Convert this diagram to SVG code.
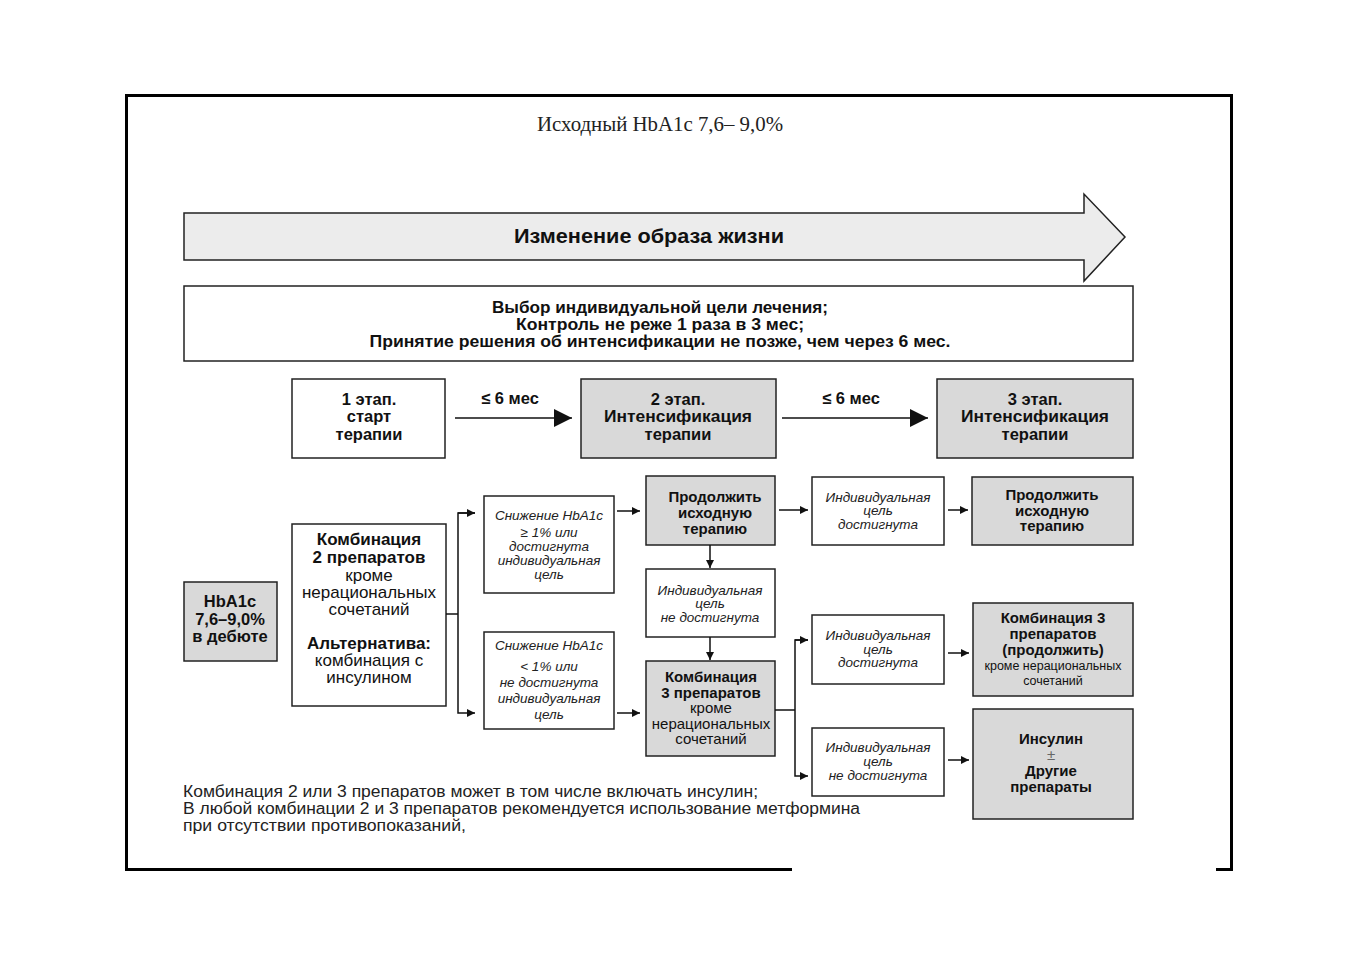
<svg xmlns="http://www.w3.org/2000/svg" width="1357" height="960" viewBox="0 0 1357 960">
<defs>
<marker id="ah" viewBox="0 0 10 10" refX="10" refY="5" markerWidth="8" markerHeight="8" markerUnits="userSpaceOnUse" orient="auto"><path d="M0,0 L10,5 L0,10 Z" fill="#111"/></marker>
<marker id="ahb" viewBox="0 0 10 10" refX="10" refY="5" markerWidth="18" markerHeight="18" markerUnits="userSpaceOnUse" orient="auto"><path d="M0,0 L10,5 L0,10 Z" fill="#111"/></marker>
<style>
.b{fill:#fff;stroke:#222;stroke-width:1.5}
.g{fill:#d9d9d9;stroke:#222;stroke-width:1.5}
.t{font-family:"Liberation Sans",Arial,sans-serif;fill:#111;text-anchor:middle}
.bd{font-weight:bold}
.it{font-style:italic;font-size:13.5px;fill:#222}
.c{fill:none;stroke:#111;stroke-width:1.5}
.fn{font-family:"Liberation Sans",Arial,sans-serif;font-size:16px;fill:#222}
.st{font-size:16.5px}
</style>
</defs>
<rect width="1357" height="960" fill="#fff"/>
<g id="frame" fill="none" stroke="#000" stroke-width="3">
<polyline points="792,869.5 126.5,869.5 126.5,95.5 1231.5,95.5 1231.5,869.5 1216,869.5"/>
</g>
<g id="title"><text x="660" y="131" textLength="246" lengthAdjust="spacingAndGlyphs" style="font-family:'Liberation Serif','Times New Roman',serif;font-size:20px;text-anchor:middle;fill:#222">Исходный HbA1c 7,6– 9,0%</text></g>
<g id="lifestyle">
<path d="M184,213 L1084,213 L1084,194 L1125,237 L1084,281 L1084,260 L184,260 Z" fill="#ececec" stroke="#222" stroke-width="1.5"/>
<text class="t bd" x="649" y="243" font-size="20.5" textLength="270" lengthAdjust="spacingAndGlyphs">Изменение образа жизни</text>
</g>
<g id="goals">
<rect class="b" x="184" y="286" width="949" height="75"/>
<text class="t bd" font-size="16" x="660" y="313" textLength="336" lengthAdjust="spacingAndGlyphs">Выбор индивидуальной цели лечения;</text>
<text class="t bd" font-size="16" x="660" y="330" textLength="288" lengthAdjust="spacingAndGlyphs">Контроль не реже 1 раза в 3 мес;</text>
<text class="t bd" font-size="16" x="660" y="347" textLength="581" lengthAdjust="spacingAndGlyphs">Принятие решения об интенсификации не позже, чем через 6 мес.</text>
</g>
<g id="stage1"><rect class="b" x="292" y="379" width="153" height="79"/>
<text class="t bd st"><tspan x="369" y="405">1 этап.</tspan><tspan x="369" y="422">старт</tspan><tspan x="369" y="440">терапии</tspan></text></g>
<g id="stage2"><rect class="g" x="581" y="379" width="195" height="79"/>
<text class="t bd st" x="678" y="405">2 этап.</text>
<text class="t bd st" x="678" y="422" textLength="148" lengthAdjust="spacingAndGlyphs">Интенсификация</text>
<text class="t bd st" x="678" y="440">терапии</text></g>
<g id="stage3"><rect class="g" x="937" y="379" width="196" height="79"/>
<text class="t bd st" x="1035" y="405">3 этап.</text>
<text class="t bd st" x="1035" y="422" textLength="148" lengthAdjust="spacingAndGlyphs">Интенсификация</text>
<text class="t bd st" x="1035" y="440">терапии</text></g>
<g id="hba1c"><rect class="g" x="184" y="582" width="93" height="79"/>
<text class="t bd" font-size="16.5"><tspan x="230" y="607">HbA1c</tspan><tspan x="230" y="625">7,6–9,0%</tspan><tspan x="230" y="642">в дебюте</tspan></text></g>
<g id="combo2"><rect class="b" x="292" y="524" width="154" height="182"/>
<text class="t" font-size="17"><tspan x="369" y="545" class="bd">Комбинация</tspan><tspan x="369" y="563" class="bd">2 препаратов</tspan><tspan x="369" y="581">кроме</tspan><tspan x="369" y="598">нерациональных</tspan><tspan x="369" y="615">сочетаний</tspan><tspan x="369" y="649" class="bd">Альтернатива:</tspan><tspan x="369" y="666">комбинация с</tspan><tspan x="369" y="683">инсулином</tspan></text></g>
<g id="dec1"><rect class="b" x="484" y="496" width="130" height="97"/>
<text class="t it"><tspan x="549" y="520">Снижение HbA1c</tspan><tspan x="549" y="537">≥ 1% или</tspan><tspan x="549" y="551">достигнута</tspan><tspan x="549" y="565">индивидуальная</tspan><tspan x="549" y="579">цель</tspan></text></g>
<g id="dec2"><rect class="b" x="484" y="632" width="130" height="97"/>
<text class="t it"><tspan x="549" y="650">Снижение HbA1c</tspan><tspan x="549" y="671">&lt; 1% или</tspan><tspan x="549" y="687">не достигнута</tspan><tspan x="549" y="703">индивидуальная</tspan><tspan x="549" y="719">цель</tspan></text></g>
<g id="cont1"><rect class="g" x="646" y="476" width="129" height="69"/>
<text class="t bd" font-size="15"><tspan x="715" y="502">Продолжить</tspan><tspan x="715" y="518">исходную</tspan><tspan x="715" y="534">терапию</tspan></text></g>
<g id="notreached1"><rect class="b" x="646" y="569" width="129" height="68"/>
<text class="t it"><tspan x="710" y="595">Индивидуальная</tspan><tspan x="710" y="608">цель</tspan><tspan x="710" y="622">не достигнута</tspan></text></g>
<g id="combo3"><rect class="g" x="646" y="661" width="129" height="95"/>
<text class="t" font-size="15"><tspan x="711" y="682" class="bd">Комбинация</tspan><tspan x="711" y="698" class="bd">3 препаратов</tspan><tspan x="711" y="713">кроме</tspan><tspan x="711" y="729">нерациональных</tspan><tspan x="711" y="744">сочетаний</tspan></text></g>
<g id="reached1"><rect class="b" x="812" y="477" width="132" height="68"/>
<text class="t it"><tspan x="878" y="502">Индивидуальная</tspan><tspan x="878" y="515">цель</tspan><tspan x="878" y="529">достигнута</tspan></text></g>
<g id="cont2"><rect class="g" x="972" y="477" width="161" height="68"/>
<text class="t bd" font-size="15"><tspan x="1052" y="500">Продолжить</tspan><tspan x="1052" y="516">исходную</tspan><tspan x="1052" y="531">терапию</tspan></text></g>
<g id="reached2"><rect class="b" x="812" y="615" width="132" height="69"/>
<text class="t it"><tspan x="878" y="640">Индивидуальная</tspan><tspan x="878" y="654">цель</tspan><tspan x="878" y="667">достигнута</tspan></text></g>
<g id="combo3cont"><rect class="g" x="973" y="603" width="160" height="93"/>
<text class="t"><tspan x="1053" y="623" class="bd" font-size="15">Комбинация 3</tspan><tspan x="1053" y="639" class="bd" font-size="15">препаратов</tspan><tspan x="1053" y="655" class="bd" font-size="15">(продолжить)</tspan><tspan x="1053" y="670" font-size="12.5">кроме нерациональных</tspan><tspan x="1053" y="685" font-size="12.5">сочетаний</tspan></text></g>
<g id="notreached2"><rect class="b" x="812" y="728" width="132" height="68"/>
<text class="t it"><tspan x="878" y="752">Индивидуальная</tspan><tspan x="878" y="766">цель</tspan><tspan x="878" y="780">не достигнута</tspan></text></g>
<g id="insulin"><rect class="g" x="973" y="709" width="160" height="110"/>
<text class="t" font-size="15"><tspan x="1051" y="744" class="bd">Инсулин</tspan><tspan x="1051" y="760" fill="#666">±</tspan><tspan x="1051" y="776" class="bd">Другие</tspan><tspan x="1051" y="792" class="bd">препараты</tspan></text></g>
<g id="connectors">
<line class="c" x1="455" y1="418" x2="572" y2="418" marker-end="url(#ahb)"/>
<line class="c" x1="782" y1="418" x2="928" y2="418" marker-end="url(#ahb)"/>
<text class="t bd" x="510" y="404" font-size="16.5">≤ 6 мес</text>
<text class="t bd" x="851" y="404" font-size="16.5">≤ 6 мес</text>
<polyline class="c" points="446,614 458,614"/>
<polyline class="c" points="475,513 458,513 458,713 475,713" marker-end="url(#ah)"/>
<line class="c" x1="458" y1="513" x2="475" y2="513" marker-end="url(#ah)"/>
<line class="c" x1="617" y1="511" x2="640" y2="511" marker-end="url(#ah)"/>
<line class="c" x1="617" y1="713" x2="640" y2="713" marker-end="url(#ah)"/>
<line class="c" x1="710" y1="545" x2="710" y2="568" marker-end="url(#ah)"/>
<line class="c" x1="710" y1="637" x2="710" y2="660" marker-end="url(#ah)"/>
<line class="c" x1="779" y1="510" x2="808" y2="510" marker-end="url(#ah)"/>
<polyline class="c" points="775,710 795,710"/>
<polyline class="c" points="808,640 795,640 795,776 808,776" marker-end="url(#ah)"/>
<line class="c" x1="795" y1="640" x2="808" y2="640" marker-end="url(#ah)"/>
<line class="c" x1="948" y1="510" x2="968" y2="510" marker-end="url(#ah)"/>
<line class="c" x1="948" y1="653" x2="969" y2="653" marker-end="url(#ah)"/>
<line class="c" x1="948" y1="760" x2="969" y2="760" marker-end="url(#ah)"/>
</g>
<g id="footnote">
<text class="fn" x="183" y="797" textLength="575" lengthAdjust="spacingAndGlyphs">Комбинация 2 или 3 препаратов может в том числе включать инсулин;</text>
<text class="fn" x="183" y="814" textLength="677" lengthAdjust="spacingAndGlyphs">В любой комбинации 2 и 3 препаратов рекомендуется использование метформина</text>
<text class="fn" x="183" y="831" textLength="283" lengthAdjust="spacingAndGlyphs">при отсутствии противопоказаний,</text>
</g>
</svg>
